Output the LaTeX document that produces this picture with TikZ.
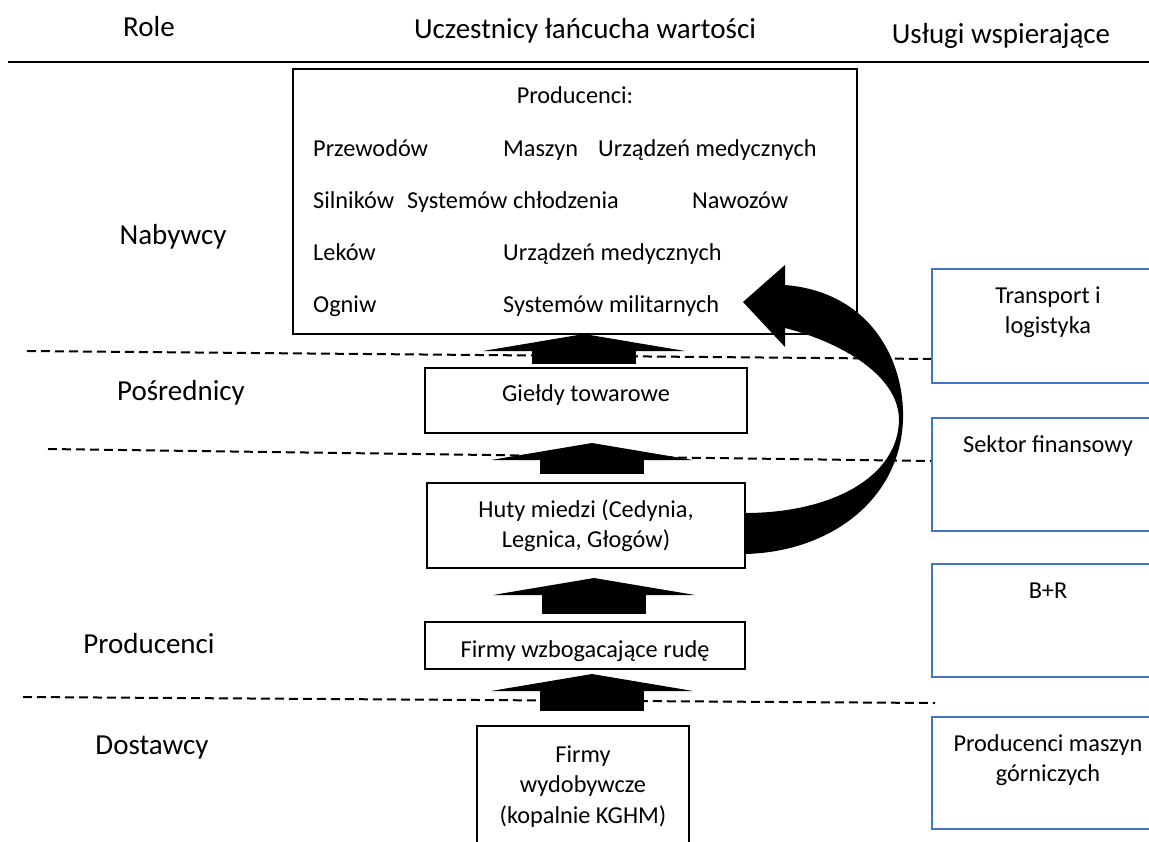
\documentclass[tikz,border=0pt]{standalone}
\usepackage{fontspec}
\setmainfont{Carlito}
\usepackage{xcolor}
\definecolor{svcblue}{HTML}{4472C4}
\usetikzlibrary{arrows.meta, positioning, calc}

\begin{document}
\begin{tikzpicture}[
  x=1pt, y=-1pt,
  heading/.style={anchor=base, inner sep=0pt, font=\fontsize{29}{35}\selectfont},
  txt/.style={inner sep=0pt, align=center, font=\fontsize{24.3}{30.5}\selectfont},
  word/.style={txt, anchor=base west},
  box/.style={rectangle, draw, line width=1.3pt, inner sep=0pt, outer sep=0pt},
  svcbox/.style={rectangle, draw=svcblue, line width=2.7pt, outer sep=0pt,
    minimum width=270pt, minimum height=113pt},
  sep/.style={line width=2pt, dash pattern=on 9pt off 5pt},
  flow/.style={line width=104pt, -{Triangle[length=17pt, width=202pt, line width=0pt]}}
]
\useasboundingbox (0,0) rectangle (1149,841);
\clip (0,0) rectangle (1149,841);

% column headings
\node[heading] (hrole) at (149,36) {Role};
\node[heading] (hchain) at (585,38) {Uczestnicy łańcucha wartości};
\node[heading] (hsvc) at (1001,43) {Usługi wspierające};
\draw[line width=1.7pt] (8,62) -- (1149,62);

% roles
\node[heading] (rbuy) at (173,244) {Nabywcy};
\node[heading] (rmid) at (181,400) {Pośrednicy};
\node[heading] (rprod) at (149,653) {Producenci};
\node[heading] (rsup) at (152,754) {Dostawcy};

% layer borders
\draw[sep] (27,351) -- (932,359);
\draw[sep] (48,449) -- (932,461);
\draw[sep] (23,697) -- (935,703);

% value chain
\node[box, minimum width=564pt, minimum height=265pt] (buyers) at (575,201.5) {};
\node[txt, anchor=base] (buyhead) at (575,103.5) {Producenci:};
\node[word] (w11) at (313,156) {Przewodów};
\node[word] (w12) at (503,156) {Maszyn};
\node[word] (w13) at (598,156) {Urządzeń medycznych};
\node[word] (w21) at (313,208) {Silników};
\node[word] (w22) at (407,208) {Systemów chłodzenia};
\node[word] (w23) at (692,208) {Nawozów};
\node[word] (w31) at (313,260) {Leków};
\node[word] (w32) at (503,260) {Urządzeń medycznych};
\node[word] (w41) at (313,312) {Ogniw};
\node[word] (w42) at (503,312) {Systemów militarnych};

\node[box, minimum width=322pt, minimum height=65pt] (gield) at (586,400.5) {};
\node[txt, anchor=base] (gield-t) at (586,401) {Giełdy towarowe};
\node[box, minimum width=318pt, minimum height=85pt] (huty) at (586,525.5) {};
\node[txt, anchor=north] (huty-t) at (586,495.65) {\strut Huty miedzi (Cedynia,\\Legnica, Głogów)};
\node[box, minimum width=320pt, minimum height=47pt] (wzbog) at (585,645.5) {};
\node[txt, anchor=base] (wzbog-t) at (585,657) {Firmy wzbogacające rudę};
\node[box, minimum width=212pt, minimum height=130pt, anchor=north] (wydob) at (583,726) {};
\node[txt, anchor=north] (wydob-t) at (583,740.65) {\strut Firmy\\wydobywcze\\(kopalnie KGHM)};

% support services
\node[svcbox, minimum height=114pt] (trans) at (1067,326) {};
\node[svcbox, below=35pt of trans] (sektor) {};
\node[svcbox, below=33pt of sektor] (bir) {};
\node[svcbox, below=40pt of bir, minimum height=112pt] (maszyn) {};
\node[txt, anchor=north] (trans-t) at (1048,281.65) {\strut Transport i\\logistyka};
\node[txt, anchor=base] (sektor-t) at (1048,452) {Sektor finansowy};
\node[txt, anchor=base] (bir-t) at (1048,598) {B+R};
\node[txt, anchor=north] (maszyn-t) at (1048,729.65) {\strut Producenci maszyn\\górniczych};

% flows
\draw[flow] ($(gield.north)+(-2,-4)$) -- ($(buyers.south)+(9,0)$);
\draw[flow] ($(huty.north)+(6,-9)$) -- ($(gield.south)+(6,10)$);
\draw[flow] ($(wzbog.north)+(9,-8)$) -- ($(huty.south)+(8,10)$);
\draw[flow] ($(wydob.north)+(9,-15)$) -- ($(wzbog.south)+(7,5)$);

% direct sale, smelters to buyers
\fill[shift={(huty.east)}] (0,-12.5) .. controls (85,-12.5) and (153,-47.5) .. (154,-105.5)
  .. controls (154,-150.5) and (95,-183.5) .. (40,-197.5) -- (40,-178.5) -- (-2,-223.5)
  -- (40,-260.5) -- (40,-240.5) .. controls (125,-233.5) and (160,-165.5) .. (158,-105.5)
  .. controls (155,-25.5) and (85,26.5) .. (0,28.5) -- cycle;
\end{tikzpicture}
\end{document}
